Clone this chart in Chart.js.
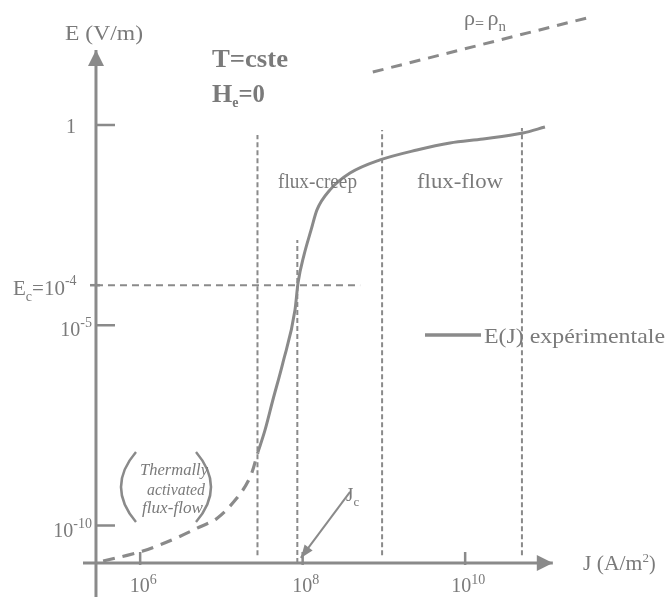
<!DOCTYPE html>
<html><head><meta charset="utf-8">
<script src="https://cdn.jsdelivr.net/npm/chart.js@4.4.0/dist/chart.umd.min.js"></script>
<style>html,body{margin:0;padding:0;background:#fff}#wrap{width:667px;height:597px;position:relative}</style>
</head><body><div id="wrap"><canvas id="c"></canvas></div>
<script>
// ---- data (J in A/m², E in V/m) ----
const thermalJ = [3.5e5, 6.9e5, 1.08e6, 1.75e6, 2.8e6, 5.4e6, 8.8e6, 1.56e7, 2.25e7, 2.82e7];
const thermalE = [1.3e-11, 1.8e-11, 2.3e-11, 3.3e-11, 4.9e-11, 9.2e-11, 1.5e-10, 4.9e-10, 1.6e-9, 6.8e-9];
const expJ = [2.82e7, 3.44e7, 4.3e7, 5.7e7, 8.05e7, 8.77e7, 1.04e8, 1.27e8, 1.5e8, 2.17e8, 3.83e8, 8.95e8, 2.55e9, 6.5e9, 1.66e10, 5.15e10, 9.6e10];
const expE = [6.8e-9, 2.4e-8, 1.36e-7, 1.14e-6, 2.4e-5, 1.13e-4, 5.7e-4, 2.4e-3, 7.6e-3, 2.4e-2, 6.3e-2, 0.134, 0.238, 0.356, 0.448, 0.632, 0.89];
const normalJ = [7.3e8, 3.15e11];
const normalE = [21, 470];
const boundaryJ = [2.78e7, 8.6e7, 9.5e8, 5.0e10];
const boundaryTopE = [0.56, 1.35e-3, 0.75, 0.84];
const boundaryBottomE = [1.8e-11, 1.16e-11, 1.8e-11, 1.8e-11];
const Ec = 1e-4;
const EcJ = [2.86e5, 5.1e8];
const jcArrowJ = [3.83e8, 9.5e7];
const jcArrowE = [6.9e-10, 1.55e-11];
const xTicks = [1e6, 1e8, 1e10];
const xTickExp = ['6', '8', '10'];
const yTicks = [1, 1e-5, 1e-10];
const yTickExp = ['', '-5', '-10'];
// axis geometry (data units)
const xRange = [1.884e4, 3.05e12];
const yRange = [1.64e-12, 1321];
const axisJ = 2.86e5, axisE = 1.16e-11;
const xAxisSpan = [1.98e5, 1.2e11];
const yAxisTop = 74.6;

const LINE = '#8a8a8a', TEXT = '#7a7a7a';
const SERIF = '"Liberation Serif","Times New Roman",serif';

const pts = (xs, ys) => xs.map((v, i) => ({x: v, y: ys[i]}));
const seg = (x0, y0, x1, y1) => [{x: x0, y: y0}, {x: x1, y: y1}];

const datasets = [
  {label: 'E(J) expérimentale', data: pts(expJ, expE), borderColor: LINE, borderWidth: 3, cubicInterpolationMode: 'monotone'},
  {label: 'thermal', data: pts(thermalJ, thermalE), borderColor: LINE, borderWidth: 3.2, borderDash: [12, 8], tension: 0.35},
  {label: 'rho', data: pts(normalJ, normalE), borderColor: LINE, borderWidth: 3, borderDash: [11, 8]},
  {label: 'Ec', data: seg(EcJ[0], Ec, EcJ[1], Ec), borderColor: LINE, borderWidth: 2, borderDash: [7, 5]},
  {label: 'Jc', data: pts(jcArrowJ, jcArrowE), borderColor: LINE, borderWidth: 2},
  {label: 'xaxis', data: seg(xAxisSpan[0], axisE, xAxisSpan[1], axisE), borderColor: LINE, borderWidth: 3},
  {label: 'yaxis', data: seg(axisJ, yRange[0], axisJ, yAxisTop), borderColor: LINE, borderWidth: 3}
];
boundaryJ.forEach((j, i) => datasets.push({label: 'b' + i, data: seg(j, boundaryBottomE[i], j, boundaryTopE[i]), borderColor: LINE, borderWidth: 2, borderDash: [5, 3]}));
datasets.forEach(d => { d.pointRadius = 0; d.showLine = true; d.fill = false; });

function arrowHead(ctx, tx, ty, dx, dy, len, half) {
  const n = Math.hypot(dx, dy); dx /= n; dy /= n;
  const bx = tx - dx * len, by = ty - dy * len;
  ctx.beginPath();
  ctx.moveTo(tx, ty);
  ctx.lineTo(bx - dy * half, by + dx * half);
  ctx.lineTo(bx + dy * half, by - dx * half);
  ctx.closePath(); ctx.fill();
}
function rich(ctx, parts, x, y, draw = true) {
  let cx = x;
  for (const p of parts) {
    ctx.font = p.f;
    const w = ctx.measureText(p.t).width * (p.s || 1);
    if (draw) { ctx.save(); ctx.translate(cx, y + (p.dy || 0)); ctx.scale(p.s || 1, 1); ctx.fillText(p.t, 0, 0); ctx.restore(); }
    cx += w + (p.gap || 0);
  }
  return cx - x;
}
function fitText(ctx, t, x, y, f, w) {
  ctx.font = f;
  const m = ctx.measureText(t).width;
  ctx.save(); ctx.translate(x, y); ctx.scale(w / m, 1); ctx.fillText(t, 0, 0); ctx.restore();
}

const overlay = {
  id: 'overlay',
  afterDatasetsDraw(chart) {
    const {ctx, scales: {x, y}} = chart;
    const px = v => x.getPixelForValue(v), py = v => y.getPixelForValue(v);
    const ax = px(axisJ), ay = py(axisE);
    ctx.save();
    ctx.fillStyle = LINE; ctx.strokeStyle = LINE;
    // arrowheads
    arrowHead(ctx, ax, py(yAxisTop), 0, -1, 16, 8);
    arrowHead(ctx, px(xAxisSpan[1]), ay, 1, 0, 16, 8);
    const j0x = px(jcArrowJ[0]), j0y = py(jcArrowE[0]), j1x = px(jcArrowJ[1]), j1y = py(jcArrowE[1]);
    arrowHead(ctx, j1x, j1y, j1x - j0x, j1y - j0y, 13, 5);
    // tick marks
    ctx.lineWidth = 2.5;
    yTicks.forEach(v => { const yy = py(v); ctx.beginPath(); ctx.moveTo(ax, yy); ctx.lineTo(ax + 19, yy); ctx.stroke(); });
    ctx.beginPath(); ctx.moveTo(ax - 6, py(Ec)); ctx.lineTo(ax + 4, py(Ec)); ctx.stroke();
    xTicks.forEach(v => { const xx = px(v); ctx.beginPath(); ctx.moveTo(xx, ay - 11); ctx.lineTo(xx, ay + 2); ctx.stroke(); });
    // parentheses
    ctx.lineWidth = 2.5;
    ctx.beginPath(); ctx.moveTo(136, 452); ctx.quadraticCurveTo(106, 487, 136, 522); ctx.stroke();
    ctx.beginPath(); ctx.moveTo(196, 452); ctx.quadraticCurveTo(226, 487, 196, 522); ctx.stroke();
    // legend sample
    ctx.lineWidth = 3.5;
    ctx.beginPath(); ctx.moveTo(425, 335); ctx.lineTo(481, 335); ctx.stroke();

    // ---- text ----
    ctx.fillStyle = TEXT; ctx.textBaseline = 'alphabetic'; ctx.textAlign = 'left';
    const F = s => s + 'px ' + SERIF;
    // x tick labels
    xTicks.forEach((v, i) => {
      const parts = [{t: '10', f: F(20)}, {t: xTickExp[i], f: F(14), dy: -8}];
      const w = rich(ctx, parts, 0, 0, false);
      rich(ctx, parts, px(v) - w / 2 + 3, ay + 29);
    });
    // y tick labels
    yTicks.forEach((v, i) => {
      const parts = yTickExp[i] ? [{t: '10', f: F(20)}, {t: yTickExp[i], f: F(14), dy: -9}] : [{t: '1', f: F(20)}];
      const w = rich(ctx, parts, 0, 0, false);
      rich(ctx, parts, (yTickExp[i] ? ax - 4 : ax - 20) - w, py(v) + (yTickExp[i] ? 11 : 8));
    });
    // Ec label
    rich(ctx, [{t: 'E', f: F(21)}, {t: 'c', f: F(14), dy: 6}, {t: '=10', f: F(21)}, {t: '-4', f: F(14), dy: -10}], 13, py(Ec) + 10);
    // axis titles
    fitText(ctx, 'E (V/m)', 65, 40, F(20), 78);
    rich(ctx, [{t: 'J (A/m', f: F(20), s: 1.08}, {t: '2', f: F(13), dy: -8}, {t: ')', f: F(20)}], 583, 570);
    // conditions
    fitText(ctx, 'T=cste', 212, 67, 'bold ' + F(26), 76);
    rich(ctx, [{t: 'H', f: 'bold ' + F(26)}, {t: 'e', f: 'bold ' + F(14), dy: 5}, {t: '=0', f: 'bold ' + F(26), s: 0.95}], 212, 102);
    // regime labels
    fitText(ctx, 'flux-creep', 278, 188, F(20), 79);
    fitText(ctx, 'flux-flow', 417, 188, F(20), 86);
    // rho = rho_n
    rich(ctx, [{t: 'ρ', f: F(22)}, {t: '=', f: F(16), dy: 4, gap: 2}, {t: ' ', f: F(6)}, {t: 'ρ', f: F(22)}, {t: 'n', f: F(15), dy: 6}], 464, 25);
    // legend text
    fitText(ctx, 'E(J) expérimentale', 484, 343, F(21), 181);
    // Jc label
    rich(ctx, [{t: 'J', f: F(19)}, {t: 'c', f: F(13), dy: 5}], 346, 501);
    // thermally activated
    const I = 'italic ' + F(16);
    fitText(ctx, 'Thermally', 140, 475, I, 68);
    fitText(ctx, 'activated', 147, 495, I, 58);
    fitText(ctx, 'flux-flow', 142, 513, I, 61);
    ctx.restore();
  }
};

new Chart(document.getElementById('c'), {
  type: 'scatter',
  data: {datasets},
  options: {
    responsive: true, maintainAspectRatio: false, animation: false,
    layout: {padding: 0},
    plugins: {legend: {display: false}, tooltip: {enabled: false}},
    elements: {line: {borderCapStyle: 'butt'}},
    scales: {
      x: {type: 'logarithmic', min: xRange[0], max: xRange[1], display: false, bounds: 'data'},
      y: {type: 'logarithmic', min: yRange[0], max: yRange[1], display: false, bounds: 'data'}
    }
  },
  plugins: [overlay]
});
</script></body></html>
